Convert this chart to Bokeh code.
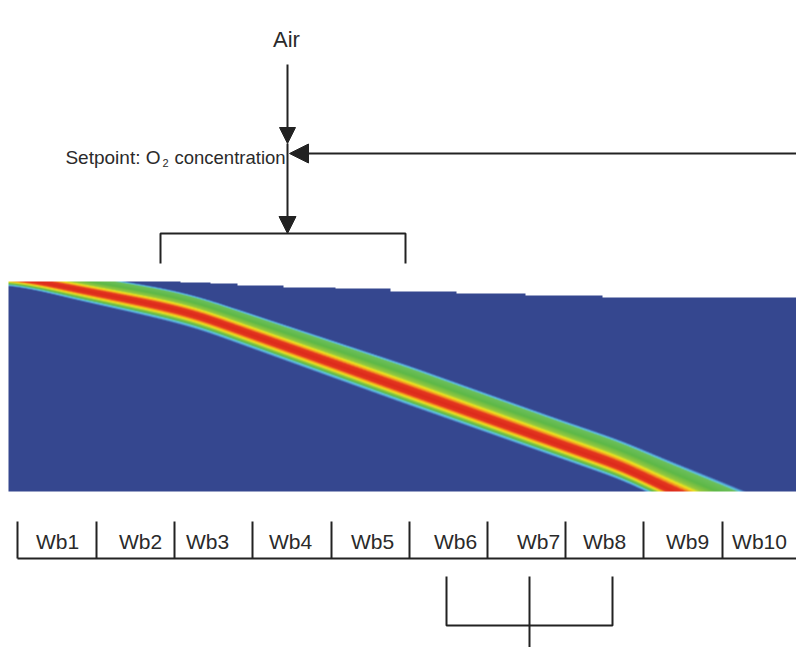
import numpy as np
from bokeh.plotting import figure
from bokeh.models import Range1d, LinearColorMapper, Arrow, NormalHead
from bokeh.embed import file_html
from bokeh.resources import INLINE
from bokeh.core.properties import value

# ---------------- data (page pixel coordinates) ----------------
# centre line of the red reaction core
front_x = [8, 43, 67, 133, 167, 200, 270, 340, 410, 480, 550, 620, 670, 720, 780]
front_y = [277, 282, 287, 300, 307, 316, 341, 366, 391, 416, 441, 466, 490, 513, 541]
# extent of the front above the core (towards bed surface)
width_up_x = [8, 43, 67, 133, 167, 200, 270, 340, 410, 480, 550, 620, 670, 720, 780]
width_up = [10, 14, 16, 18, 19, 20, 22, 24, 26, 26, 26, 27, 30, 33, 36]
# extent of the front below the core (towards grate)
width_low_x = [8, 67, 167, 200, 400, 600, 780]
width_low = [8, 11, 14, 14, 15, 14, 12]

# stepped surface of the fuel bed
bed_step_x = [8, 180, 210, 237, 283, 335, 390, 456, 525, 602]
bed_step_y = [281, 282, 283, 285, 287, 288, 291, 293, 295, 297]
bed_left, bed_right, bed_bottom = 8, 800, 491

# grate zones
zones = ["Wb1", "Wb2", "Wb3", "Wb4", "Wb5", "Wb6", "Wb7", "Wb8", "Wb9", "Wb10"]
zone_edges = [17, 96, 174, 252, 331, 409, 487, 565, 643, 722, 800]
zone_label_x = [57, 140, 207, 290, 372, 455, 538, 604, 687, 759]

# brackets
top_bracket_x = [160, 160, 405, 405]
top_bracket_y = [263, 233, 233, 263]
bottom_bracket_x = [446, 446, 612, 612]
bottom_bracket_y = [576, 625, 625, 576]
bottom_stem_x = [529, 529]
bottom_stem_y = [576, 663]

# arrows (start x, start y, end x, end y, head size)
arrows = [
    (287, 64, 287, 143, 16),
    (287, 143, 287, 233, 17),
    (806, 153, 289, 153, 19),
]

# ---------------- figure ----------------
W_PX, H_PX = 796, 647
p = figure(width=W_PX, height=H_PX, output_backend="svg", toolbar_location=None,
           x_range=Range1d(0, W_PX), y_range=Range1d(H_PX, 0),
           min_border=0, tools="")
p.xaxis.visible = False
p.yaxis.visible = False
p.grid.visible = False
p.outline_line_color = None
p.background_fill_color = "white"
p.border_fill_color = "white"

# ---------------- temperature field ----------------
top0 = min(bed_step_y)
H = bed_bottom - top0
W = bed_right - bed_left
xs = bed_left + np.arange(W) + 0.5


def smooth_interp(xq, xp, fp, sigma=14.0):
    pad = int(4 * sigma)
    xe = np.concatenate([xq[0] - np.arange(pad, 0, -1), xq, xq[-1] + np.arange(1, pad + 1)])
    ye = np.interp(xe, xp, fp)
    k = np.arange(-pad, pad + 1)
    ker = np.exp(-0.5 * (k / sigma) ** 2)
    ker /= ker.sum()
    return np.convolve(ye, ker, mode="same")[pad:-pad]


ys = top0 + np.arange(H) + 0.5
yc = smooth_interp(xs, front_x, front_y)
wu = smooth_interp(xs, width_up_x, width_up)
wl = smooth_interp(xs, width_low_x, width_low)
top = np.array(bed_step_y, dtype=float)[np.searchsorted(bed_step_x, xs, side="right") - 1]
D = ys[:, None] - yc[None, :]
S = np.where(D < 0, D / wu[None, :], D / wl[None, :])
S = np.clip(S, -1.05, 1.05)
S[ys[:, None] < top[None, :]] = np.nan

stops = [(-1.05, "#35478F"), (-1.0, "#35478F"), (-0.96, "#4C84C6"), (-0.92, "#5EC6E4"),
         (-0.86, "#6CBF5A"), (-0.62, "#5DB847"), (-0.42, "#95C83E"), (-0.33, "#EEE31E"),
         (-0.25, "#F39A1F"), (-0.17, "#E4371F"), (0.0, "#DC2A1C"), (0.22, "#E4371F"),
         (0.34, "#F39A1F"), (0.45, "#EEE31E"), (0.57, "#95C83E"), (0.69, "#5DB847"),
         (0.83, "#5EC6E4"), (0.92, "#4C84C6"), (1.0, "#35478F"), (1.05, "#35478F")]


def hex2rgb(h):
    return np.array([int(h[i:i + 2], 16) for i in (1, 3, 5)], dtype=float)


pos = np.array([s for s, _ in stops])
cols = np.array([hex2rgb(c) for _, c in stops])
t = np.linspace(-1.05, 1.05, 256)
palette = []
for v in t:
    rgb = [np.interp(v, pos, cols[:, k]) for k in range(3)]
    palette.append("#%02x%02x%02x" % tuple(int(round(c)) for c in rgb))

mapper = LinearColorMapper(palette=palette, low=-1.05, high=1.05, nan_color="white")
p.image(image=[S.astype(np.float32)], x=bed_left, y=top0, dw=W, dh=H, color_mapper=mapper)

# ---------------- lines ----------------
LC = "#222222"
p.line(top_bracket_x, top_bracket_y, line_color=LC, line_width=2)
p.line(bottom_bracket_x, bottom_bracket_y, line_color=LC, line_width=2)
p.line(bottom_stem_x, bottom_stem_y, line_color=LC, line_width=2)

scale_y = 558
tick_top = 521
p.segment(x0=[zone_edges[0]], y0=[scale_y], x1=[zone_edges[-1]], y1=[scale_y],
          line_color=LC, line_width=2)
p.segment(x0=zone_edges, y0=[tick_top] * len(zone_edges), x1=zone_edges,
          y1=[scale_y] * len(zone_edges), line_color=LC, line_width=2)

for xs0, ys0, xe, ye, hs in arrows:
    p.add_layout(Arrow(end=NormalHead(size=hs, fill_color=LC, line_color=LC, line_width=1),
                       x_start=xs0, y_start=ys0, x_end=xe, y_end=ye,
                       line_color=LC, line_width=2))

# ---------------- texts ----------------
FONT = value("Liberation Sans")
TC = "#2a2a2a"
p.text(x=zone_label_x, y=[541] * len(zones), text=zones, text_font=FONT,
       text_font_size="21px", text_align="center", text_baseline="alphabetic", text_color=TC)
p.text(x=[286], y=[39], text=["Air"], text_font=FONT, text_font_size="22px",
       text_align="center", text_baseline="alphabetic", text_color=TC)
p.text(x=[160], y=[157], text=["Setpoint: O"], text_font=FONT, text_font_size="19px",
       text_align="right", text_baseline="alphabetic", text_color=TC)
p.text(x=[165], y=[162], text=["2"], text_font=FONT, text_font_size="11px",
       text_align="center", text_baseline="alphabetic", text_color=TC)
p.text(x=[174], y=[157], text=["concentration"], text_font=FONT, text_font_size="18.5px",
       text_align="left", text_baseline="alphabetic", text_color=TC)

open("out.html", "w").write(file_html(p, INLINE))
